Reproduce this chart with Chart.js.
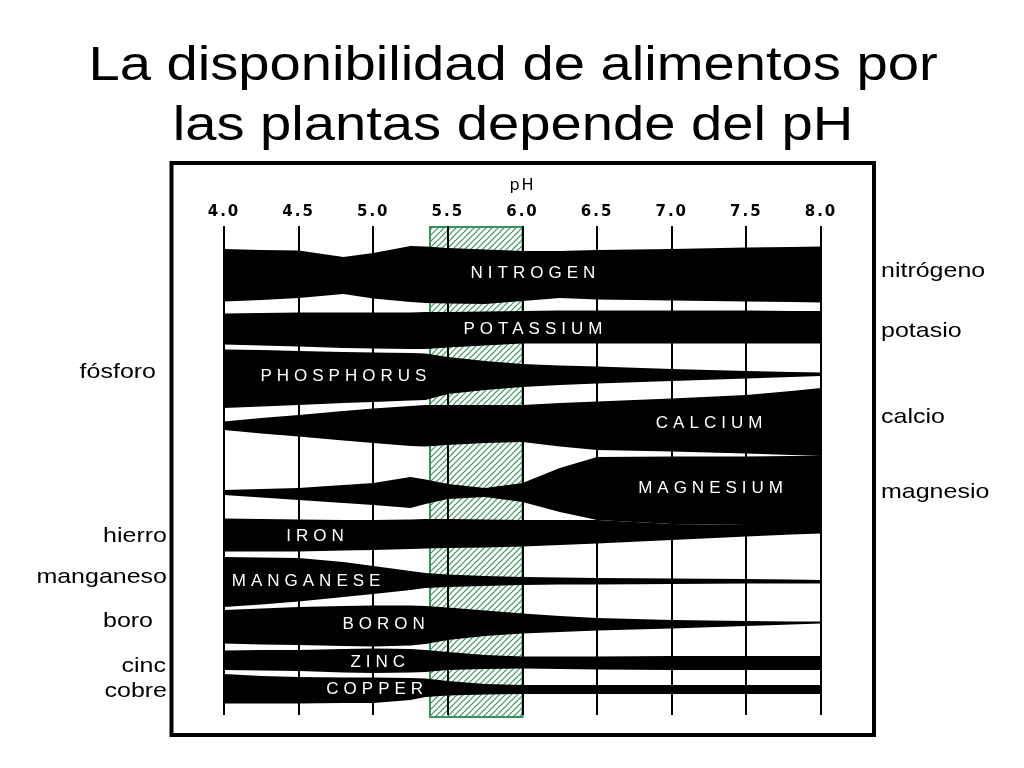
<!DOCTYPE html>
<html>
<head>
<meta charset="utf-8">
<script src="https://cdn.jsdelivr.net/npm/chart.js@4.4.0/dist/chart.umd.min.js"></script>
<style>
html, body { margin: 0; padding: 0; background: #fff; }
#wrap { position: relative; width: 1024px; height: 768px; }
</style>
</head>
<body>
<div id="wrap"><canvas id="graficaph"></canvas></div>
<script>
// pH donde se leyeron los bordes de cada banda
var phPuntos = [4.0, 4.25, 4.5, 4.8, 5.0, 5.25, 5.35, 5.5, 5.75, 6.0, 6.25, 6.5, 7.0, 7.5, 7.8, 8.0];
var phTicks = [4.0, 4.5, 5.0, 5.5, 6.0, 6.5, 7.0, 7.5, 8.0];
var optimoPh = [5.38, 6.0];

// borde superior / inferior de cada banda (0 = arriba, 489 = abajo)
var nitrogenTop    = [23, 24, 24.5, 31, 27, 20, 20.5, 22, 23.5, 25, 25, 24, 23, 21.5, 21, 20.5];
var nitrogenBottom = [75.5, 74, 72, 68, 72.5, 76, 77, 77.5, 78, 75, 72, 73.5, 74.5, 75.5, 76, 76.5];
var potassiumTop    = [87.5, 87, 86.5, 86.5, 86.5, 86.5, 86, 86, 85.5, 85, 84.5, 84.5, 84.5, 84.5, 85, 85];
var potassiumBottom = [118.5, 119.5, 120.5, 122, 122.5, 123, 123, 121.5, 119.5, 117.5, 117.5, 117.5, 117.5, 117.5, 117.5, 117.5];
var phosphorusTop    = [123.5, 124, 125, 126, 126.5, 127, 127.5, 131, 135, 138, 139.5, 140.5, 143, 145, 146, 146.5];
var phosphorusBottom = [182, 180.5, 179, 177, 176, 174.5, 174, 168, 164, 161, 159, 157.5, 155, 152.5, 151, 150];
var calciumTop    = [195.5, 192, 189, 185, 182.5, 180, 179, 179, 179, 179, 177, 175.5, 172.5, 169, 165, 162];
var calciumBottom = [204, 207.5, 210.5, 214.5, 217, 220, 220.5, 219, 217, 216, 220.5, 224, 225.5, 227.5, 229, 230];
var magnesiumTop    = [264, 263, 262, 259, 257, 251, 253.5, 258, 262, 257, 242, 231, 230.5, 230.5, 230, 230];
var magnesiumBottom = [269, 271.5, 274, 277, 279, 282, 278, 273, 271, 276, 286, 294, 298, 299, 299, 299];
var ironTop    = [292.5, 293, 293.5, 294, 294, 293.5, 293, 293, 293.5, 294, 294, 294, 298, 299, 299, 299];
var ironBottom = [325.5, 325.5, 325.5, 324.5, 324, 323, 322.5, 322, 321.5, 320.5, 319, 317.5, 314, 310.5, 308.5, 307.5];
var manganeseTop    = [331, 331.5, 332, 336, 340, 345, 347, 348.5, 350, 351, 351.5, 352, 352.5, 353, 353.5, 354];
var manganeseBottom = [381, 378.5, 375.5, 371, 368, 364, 362, 361, 360, 359, 358.5, 358.5, 358, 357.5, 357.5, 357.5];
var boronTop    = [384, 382.5, 381, 380, 379.5, 379.5, 380, 381.5, 384.5, 387.5, 390, 392, 394, 395, 395.5, 395.5];
var boronBottom = [417.5, 418.5, 419, 420, 420.5, 419.5, 418, 414, 410, 407.5, 406, 404.5, 402.5, 400, 398.5, 397.5];
var zincTop    = [424.5, 424, 424, 423, 422.5, 423, 424, 426, 429, 430.5, 430.5, 430.5, 430, 430, 430, 430];
var zincBottom = [444, 444.5, 445, 446.5, 447, 446.5, 446, 444, 443, 442.5, 443, 443.5, 444, 444, 444, 444];
var copperTop    = [448, 450, 451, 451.5, 451.5, 452, 452.5, 455, 458, 459, 459, 459, 459, 459, 459, 459];
var copperBottom = [477.5, 477.5, 477.5, 477, 477, 474, 471, 469.5, 468.5, 468, 468, 468, 468, 468, 468, 468];

// rotulos dentro de las bandas
var nombres = ['NITROGEN', 'POTASSIUM', 'PHOSPHORUS', 'CALCIUM', 'MAGNESIUM', 'IRON', 'MANGANESE', 'BORON', 'ZINC', 'COPPER'];
var nombrePh = [6.07, 6.07, 4.80, 7.25, 7.26, 4.61, 4.55, 5.07, 5.03, 5.01];
var nombreNivel = [45.7, 102, 149, 195.7, 260.7, 309, 354, 396.7, 434.7, 462.3];

// nombres en castellano a los lados
var etiquetasDer = ['nitrógeno', 'potasio', 'calcio', 'magnesio'];
var nivelesDer = [50.7, 111.3, 197.3, 272.3];
var etiquetasIzq = ['fósforo', 'hierro', 'manganeso', 'boro', 'cinc', 'cobre'];
var nivelesIzq = [152, 315.7, 357, 400.7, 445.7, 470.7];
var desplazIzq = [11, 0, 0, 14, 1, 0];

var titulo = ['La disponibilidad de alimentos por', 'las plantas depende del pH'];
var verde = '#35955a';

var bandas = [
    [nitrogenTop, nitrogenBottom], [potassiumTop, potassiumBottom], [phosphorusTop, phosphorusBottom],
    [calciumTop, calciumBottom], [magnesiumTop, magnesiumBottom], [ironTop, ironBottom],
    [manganeseTop, manganeseBottom], [boronTop, boronBottom], [zincTop, zincBottom], [copperTop, copperBottom]
];

function puntos(valores){
    return valores.map(function(v, i){ return {x: phPuntos[i], y: v}; });
}

var datasets = [];
bandas.forEach(function(b){
    datasets.push({data: puntos(b[0]), borderWidth: 0, borderColor: 'rgba(0,0,0,0)', pointRadius: 0, fill: false});
    datasets.push({data: puntos(b[1]), borderWidth: 0, borderColor: 'rgba(0,0,0,0)', pointRadius: 0, fill: '-1', backgroundColor: '#000'});
});

var rayado = null;
function patron(ctx){
    if (rayado) return rayado;
    var c = document.createElement('canvas');
    c.width = 6; c.height = 6;
    var p = c.getContext('2d');
    p.strokeStyle = verde;
    p.lineWidth = 1.2;
    p.beginPath();
    p.moveTo(0, 6); p.lineTo(6, 0);
    p.moveTo(-1, 1); p.lineTo(1, -1);
    p.moveTo(5, 7); p.lineTo(7, 5);
    p.stroke();
    rayado = ctx.createPattern(c, 'repeat');
    return rayado;
}

function texto(ctx, t, x, y, font, sx, align, espacio, color){
    ctx.save();
    ctx.font = font;
    ctx.fillStyle = color;
    ctx.letterSpacing = espacio + 'px';
    ctx.textAlign = align;
    ctx.textBaseline = 'alphabetic';
    ctx.translate(x, y);
    ctx.scale(sx, 1);
    ctx.fillText(t, 0, 0);
    ctx.restore();
}

var decoracion = {
    id: 'decoracion',
    beforeDraw: function(chart){
        var ctx = chart.ctx, xs = chart.scales.x, a = chart.chartArea;
        ctx.save();
        // marco
        ctx.strokeStyle = '#000';
        ctx.lineWidth = 4;
        ctx.strokeRect(171.5, 163, 702.5, 572);
        // zona optima rayada
        var x0 = xs.getPixelForValue(optimoPh[0]), x1 = xs.getPixelForValue(optimoPh[1]);
        ctx.fillStyle = patron(ctx);
        ctx.fillRect(x0, a.top + 1, x1 - x0, a.bottom - a.top + 1);
        ctx.strokeStyle = verde;
        ctx.lineWidth = 2;
        ctx.strokeRect(x0, a.top + 1, x1 - x0, a.bottom - a.top + 1);
        ctx.restore();
        // titulo
        texto(ctx, titulo[0], 513, 80, '48px "Liberation Sans"', 1.17, 'center', 0, '#000');
        texto(ctx, titulo[1], 513, 140, '48px "Liberation Sans"', 1.17, 'center', 0, '#000');
        ctx.letterSpacing = '2px';
    },
    afterDatasetsDraw: function(chart){
        var ctx = chart.ctx, xs = chart.scales.x, ys = chart.scales.y, a = chart.chartArea;
        nombres.forEach(function(n, i){
            texto(ctx, n, xs.getPixelForValue(nombrePh[i]) + 2.5, ys.getPixelForValue(nombreNivel[i]) + 6,
                '17px "Liberation Sans"', 1, 'center', 5, '#fff');
        });
        etiquetasDer.forEach(function(t, i){
            texto(ctx, t, a.right + 60, ys.getPixelForValue(nivelesDer[i]), '21px "Liberation Sans"', 1.19, 'left', 0, '#000');
        });
        etiquetasIzq.forEach(function(t, i){
            texto(ctx, t, a.left - 57 - desplazIzq[i], ys.getPixelForValue(nivelesIzq[i]), '21px "Liberation Sans"', 1.19, 'right', 0, '#000');
        });
    },
    afterDraw: function(chart){
        chart.ctx.letterSpacing = '0px';
    }
};

var ctx = document.getElementById('graficaph').getContext('2d');
var chart = new Chart(ctx, {
    type: 'line',
    data: { datasets: datasets },
    options: {
        responsive: true,
        maintainAspectRatio: false,
        animation: false,
        layout: { padding: { left: 224, right: 203, top: 163, bottom: 53 } },
        elements: { line: { tension: 0 } },
        plugins: { legend: { display: false }, tooltip: { enabled: false } },
        scales: {
            x: {
                type: 'linear',
                position: 'top',
                min: 4,
                max: 8,
                afterBuildTicks: function(s){ s.ticks = phTicks.map(function(v){ return {value: v}; }); },
                afterFit: function(s){ s.height = 63; },
                ticks: {
                    autoSkip: false, maxRotation: 0, padding: 5, color: '#000',
                    font: { family: 'DejaVu Sans', size: 15, weight: 'bold' },
                    callback: function(v){ return Number(v).toFixed(1); }
                },
                grid: { color: '#000', lineWidth: 2, drawTicks: false },
                border: { display: false },
                title: { display: true, text: 'pH', color: '#000', font: { family: 'DejaVu Sans', size: 16 }, padding: { top: 13, bottom: 0 } }
            },
            y: { type: 'linear', reverse: true, min: 0, max: 489, display: false }
        }
    },
    plugins: [decoracion]
});
</script>
</body>
</html>
